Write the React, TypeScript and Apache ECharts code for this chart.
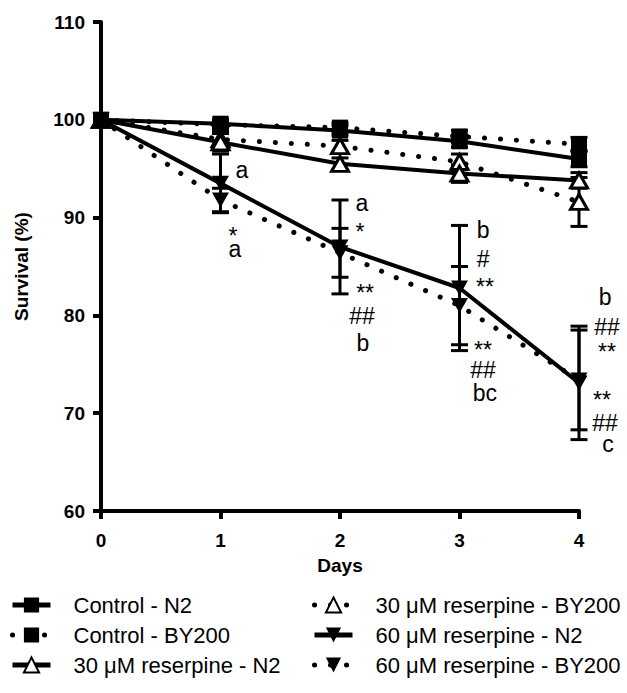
import React, { useEffect, useRef } from "react";
import * as echarts from "echarts";

const FONT = 'Arial, "Liberation Sans", Helvetica, sans-serif';

const days = [0, 1, 2, 3, 4];
const yTicks = [60, 70, 80, 90, 100, 110];

const seriesNames = [
  "Control - N2",
  "Control - BY200",
  "30 μM reserpine - N2",
  "30 μM reserpine - BY200",
  "60 μM reserpine - N2",
  "60 μM reserpine - BY200",
];

const controlN2 = [100, 99.6, 98.9, 97.8, 96.0];
const controlBY200 = [100, 99.5, 99.2, 98.3, 97.5];
const res30N2 = [100, 97.7, 95.5, 94.5, 93.8];
const res30BY200 = [100, 98.0, 97.3, 95.7, 91.6];
const res60N2 = [100, 93.5, 87.0, 82.8, 73.1];
const res60BY200 = [100, 91.8, 86.4, 81.0, 73.4];

const controlN2Err = [0, 0.4, 0.5, 0.6, 0.8];
const controlBY200Err = [0, 0.4, 0.5, 0.6, 0.7];
const res30N2Err = [0, 0.9, 0.6, 0.9, 0.8];
const res30BY200Err = [0, 0.9, 0.6, 0.8, 2.5];
const res60N2Err = [0, 3.0, 4.8, 6.4, 5.8];
const res60BY200Err = [0, 1.2, 2.5, 4.0, 5.1];

// significance annotations: position in data units (day, survival) and text
const annoDays = [1.18, 1.105, 1.12, 2.184, 2.167, 2.21, 2.184, 2.192, 3.197, 3.197, 3.213, 3.197, 3.197, 3.213, 4.218, 4.234, 4.234, 4.192, 4.218, 4.243];
const annoValues = [94.9, 88.15, 86.8, 91.5, 88.55, 82.3, 79.95, 77.2, 88.75, 85.8, 82.9, 76.5, 74.4, 72.1, 81.9, 78.8, 76.3, 71.3, 69.0, 66.9];
const annoTexts = ["a", "*", "a", "a", "*", "**", "##", "b", "b", "#", "**", "**", "##", "bc", "b", "##", "**", "**", "##", "c"];

const seriesValues = [controlN2, controlBY200, res30N2, res30BY200, res60N2, res60BY200];
const seriesErrors = [controlN2Err, controlBY200Err, res30N2Err, res30BY200Err, res60N2Err, res60BY200Err];
const seriesDotted = [false, true, false, true, false, true];
const seriesSymbols = ["rect", "rect", "triangle", "triangle", "triangle", "triangle"];
const seriesOpen = [false, false, true, true, false, false];
const seriesRotate = [0, 0, 0, 0, 180, 180];

export default function App() {
  const ref = useRef<HTMLDivElement>(null);

  useEffect(() => {
    document.body.style.margin = "0";
    if (!ref.current) return;
    const chart = echarts.init(ref.current, undefined, { renderer: "svg" });

    const lineSeries = seriesNames.map((name, i) => ({
      name,
      type: "line",
      z: 3 + (5 - i),
      data: days.map((d, j) => [d, seriesValues[i][j]]),
      symbol: seriesSymbols[i],
      symbolRotate: seriesRotate[i],
      symbolSize: seriesSymbols[i] === "rect" ? 16 : [17, 15],
      showSymbol: true,
      lineStyle: seriesDotted[i]
        ? { color: "#000", width: 5, type: [0.1, 15.9], cap: "round" }
        : { color: "#000", width: 4, type: "solid" },
      itemStyle: seriesOpen[i]
        ? { color: "#fff", borderColor: "#000", borderWidth: 3 }
        : { color: "#000", borderColor: "#000", borderWidth: 0 },
      emphasis: { disabled: true },
    }));

    const errData: number[][] = [];
    seriesNames.forEach((_, i) => {
      days.forEach((d, j) => {
        if (seriesErrors[i][j] > 0) errData.push([d, seriesValues[i][j], seriesErrors[i][j]]);
      });
    });

    const errSeries = {
      type: "custom",
      name: "errors",
      z: 1,
      silent: true,
      data: errData,
      renderItem: (params: any, api: any) => {
        const d = api.value(0);
        const m = api.value(1);
        const e = api.value(2);
        const top = api.coord([d, m + e]);
        const bot = api.coord([d, m - e]);
        const hw = 8.5;
        const style = { stroke: "#000", lineWidth: 3 };
        return {
          type: "group",
          children: [
            { type: "line", shape: { x1: top[0], y1: top[1], x2: bot[0], y2: bot[1] }, style },
            { type: "line", shape: { x1: top[0] - hw, y1: top[1], x2: top[0] + hw, y2: top[1] }, style },
            { type: "line", shape: { x1: bot[0] - hw, y1: bot[1], x2: bot[0] + hw, y2: bot[1] }, style },
          ],
        };
      },
    };

    const annoSeries = {
      type: "custom",
      name: "annotations",
      z: 20,
      silent: true,
      clip: false,
      data: annoDays.map((d, i) => [d, annoValues[i], i]),
      renderItem: (params: any, api: any) => {
        const p = api.coord([api.value(0), api.value(1)]);
        const idx = api.value(2);
        return {
          type: "text",
          x: p[0],
          y: p[1],
          style: {
            text: annoTexts[idx],
            fontSize: 23,
            fontFamily: FONT,
            fill: "#000",
            align: "center",
            verticalAlign: "middle",
          },
        };
      },
    };

    const legendCommon = {
      orient: "vertical",
      padding: 0,
      itemWidth: 38,
      itemHeight: 19,
      itemGap: 8,
      selectedMode: false,
      lineStyle: { width: 5 },
      textStyle: { fontSize: 22, fontFamily: FONT, color: "#000", padding: [0, 0, 0, 18] },
    };

    chart.setOption({
      animation: false,
      backgroundColor: "#fff",
      grid: { left: 101, top: 22, right: 48, bottom: 182 },
      xAxis: {
        type: "value",
        min: days[0],
        max: days[days.length - 1],
        interval: 1,
        name: "Days",
        nameLocation: "middle",
        nameGap: 45,
        nameTextStyle: { fontSize: 19, fontWeight: "bold", fontFamily: FONT, color: "#000" },
        axisLine: { lineStyle: { color: "#000", width: 4 } },
        axisTick: { length: 8, lineStyle: { color: "#000", width: 4 } },
        axisLabel: { fontSize: 19, fontWeight: "bold", fontFamily: FONT, color: "#000", margin: 20 },
        splitLine: { show: false },
      },
      yAxis: {
        type: "value",
        min: yTicks[0],
        max: yTicks[yTicks.length - 1],
        interval: 10,
        name: "Survival (%)",
        nameLocation: "middle",
        nameGap: 70,
        nameTextStyle: { fontSize: 19, fontWeight: "bold", fontFamily: FONT, color: "#000" },
        axisLine: { lineStyle: { color: "#000", width: 4 } },
        axisTick: { length: 8, lineStyle: { color: "#000", width: 4 } },
        axisLabel: { fontSize: 19, fontWeight: "bold", fontFamily: FONT, color: "#000", margin: 16 },
        splitLine: { show: false },
      },
      legend: [
        { ...legendCommon, left: 10, top: 594, data: seriesNames.slice(0, 3) },
        { ...legendCommon, left: 312, top: 594, data: seriesNames.slice(3, 6) },
      ],
      series: [errSeries, ...lineSeries, annoSeries],
    });

    return () => chart.dispose();
  }, []);

  return <div ref={ref} style={{ width: 627, height: 693 }} />;
}
